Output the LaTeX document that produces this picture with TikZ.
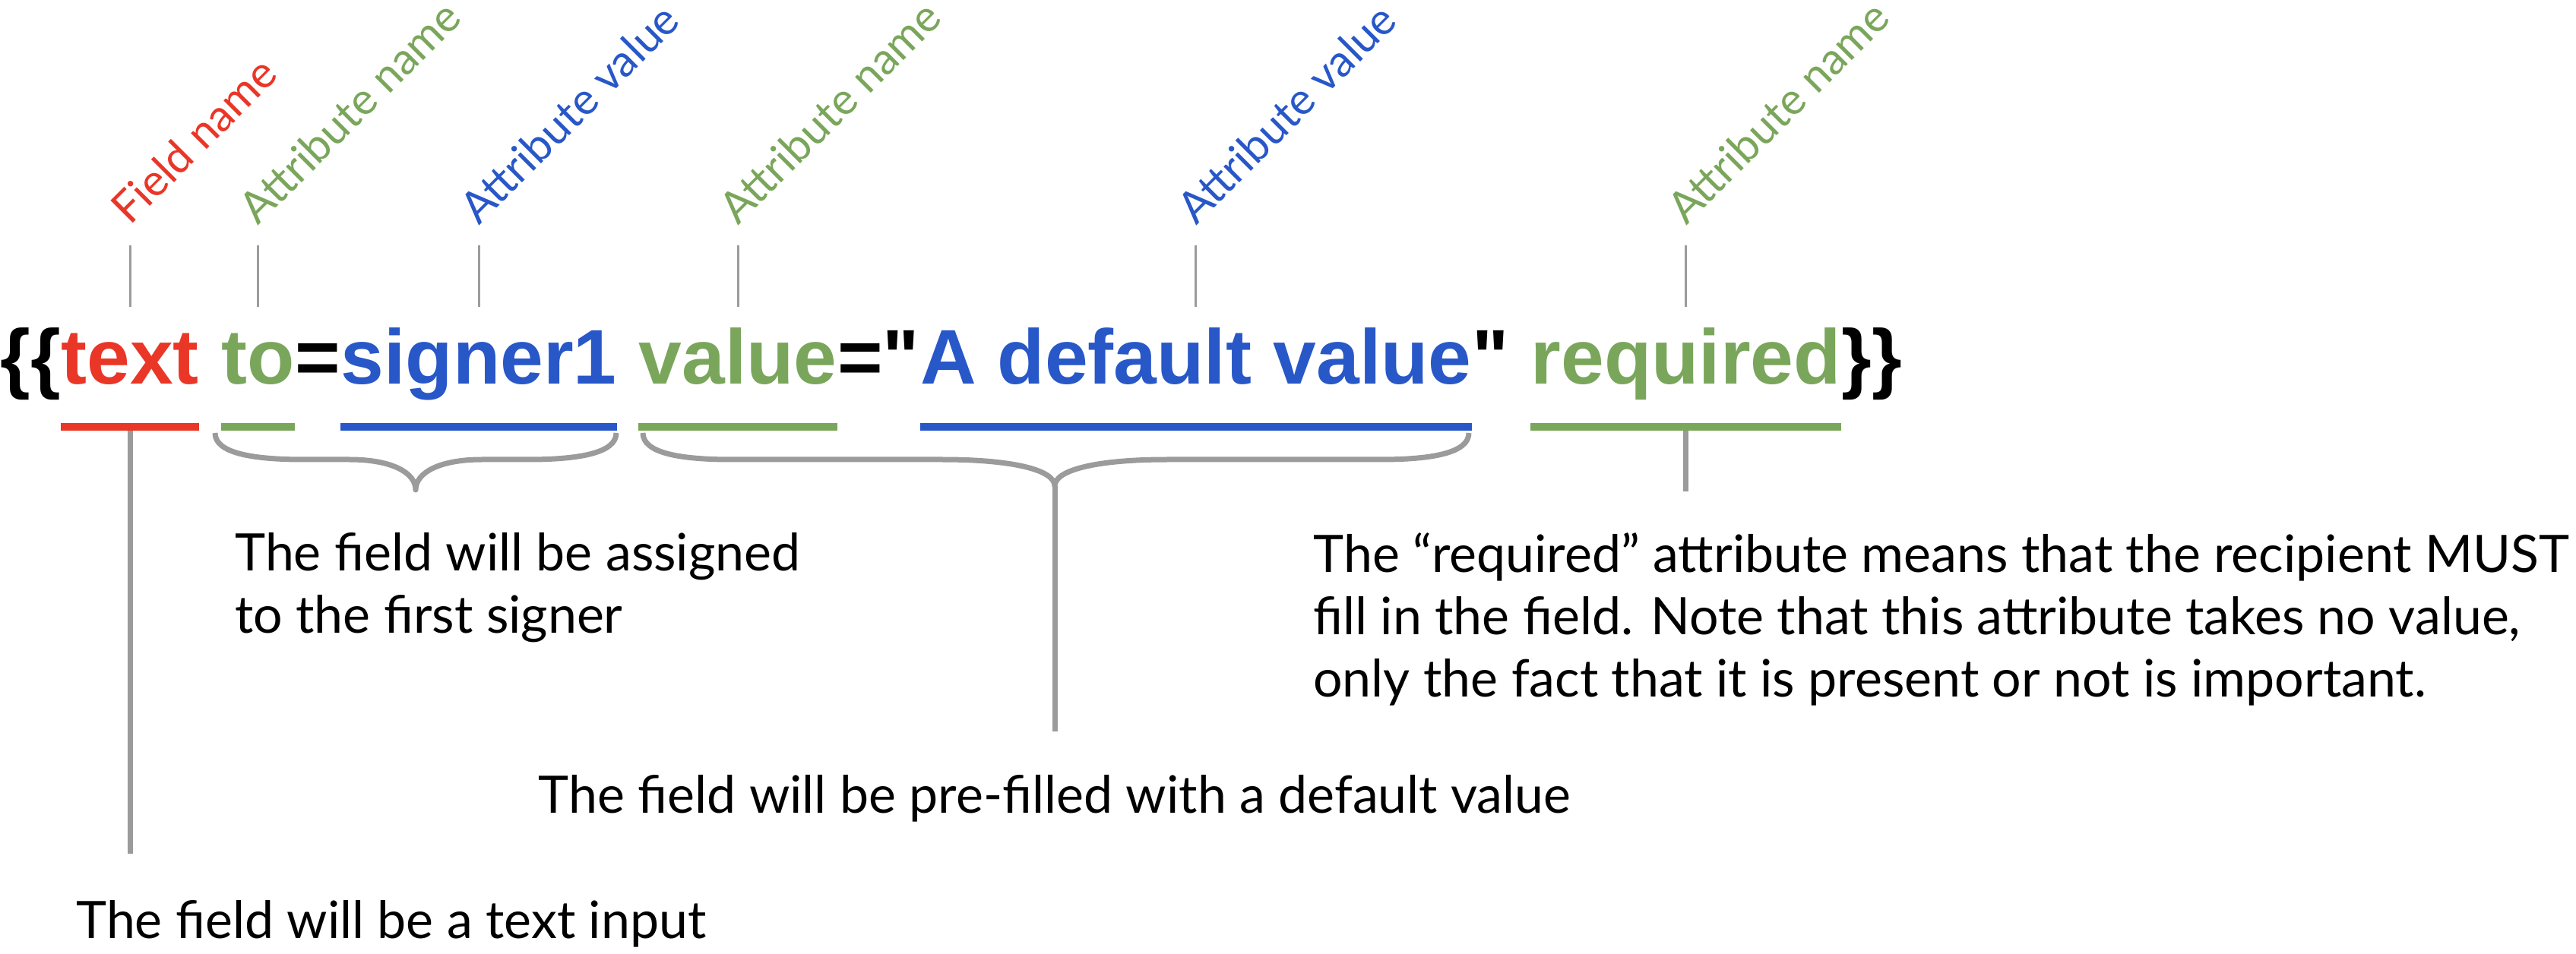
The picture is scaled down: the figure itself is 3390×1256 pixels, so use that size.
\documentclass[tikz,border=0pt]{standalone}
\usepackage{fontspec}
\usepackage{xcolor}
\usepackage{tikz}
\usetikzlibrary{positioning}
\newfontfamily\codefont{Liberation Sans}
\newfontfamily\notefont{Lato}
\definecolor{fieldred}{RGB}{233,54,39}
\definecolor{attrgreen}{RGB}{122,166,91}
\definecolor{valblue}{RGB}{40,87,200}
\definecolor{linegray}{RGB}{155,155,155}

\begin{document}
\begin{tikzpicture}[x=0.5pt, y=-0.5pt,
	code/.style={inner sep=0pt, font=\codefont\bfseries\fontsize{51}{51}\selectfont},
	lbl/.style={inner sep=0pt, anchor=base west, rotate=45, font=\notefont\fontsize{29}{29}\selectfont},
	note/.style={inner sep=0pt, anchor=base west, align=left, font=\notefont\fontsize{34}{41}\selectfont},
	tick/.style={linegray, line width=1.5pt, shorten <=12.5pt, shorten >=14pt},
	lead/.style={linegray, line width=3.5pt},
	uline/.style={line width=4.75pt},
	brace/.style={linegray, line width=3.5pt, line join=round}]
	\useasboundingbox (0,0) rectangle (3390,1256);
	\node[code, anchor=base west] (tkOpen) at (0,506) {\{\{};
	\node[code, fieldred, base right=0pt of tkOpen] (tkField) {text};
	\node[code, attrgreen, base right=14.2pt of tkField] (tkTo) {to};
	\node[code, base right=0pt of tkTo] (tkEqA) {=};
	\node[code, valblue, base right=0pt of tkEqA] (tkSigner) {signer1};
	\node[code, attrgreen, base right=14.2pt of tkSigner] (tkValue) {value};
	\node[code, base right=0pt of tkValue] (tkEqB) {="};
	\node[code, valblue, base right=0pt of tkEqB] (tkDefault) {A default value};
	\node[code, base right=0pt of tkDefault] (tkQuote) {"};
	\node[code, attrgreen, base right=14.2pt of tkQuote] (tkReq) {required};
	\node[code, base right=0pt of tkReq] (tkClose) {\}\}};
	\coordinate (lblrow) at (0,298);
	\coordinate (bar) at (0,562);
	\node[lbl, fieldred] (lbField) at (tkField.center |- lblrow) {Field name};
	\node[lbl, attrgreen] (lbTo) at (tkTo.center |- lblrow) {Attribute name};
	\node[lbl, valblue] (lbSigner) at (tkSigner.center |- lblrow) {Attribute value};
	\node[lbl, attrgreen] (lbValue) at (tkValue.center |- lblrow) {Attribute name};
	\node[lbl, valblue] (lbDefault) at (tkDefault.center |- lblrow) {Attribute value};
	\node[lbl, attrgreen] (lbReq) at (tkReq.center |- lblrow) {Attribute name};
	\draw[tick] (lbField.base west) -- (tkField.center |- tkSigner.north);
	\draw[tick] (lbTo.base west) -- (tkTo.center |- tkSigner.north);
	\draw[tick] (lbSigner.base west) -- (tkSigner.north);
	\draw[tick] (lbValue.base west) -- (tkValue.north);
	\draw[tick] (lbDefault.base west) -- (tkDefault.north);
	\draw[tick] (lbReq.base west) -- (tkReq.north);
	\node[note] (noteSigner) at (309,833) {The field will be assigned\\to the first signer};
	\node[note, anchor=base] (notePrefill) at (1388,1070) {The field will be pre-filled with a default value};
	\node[note] (noteInput) at (100,1235) {The field will be a text input};
	\node[note] (noteReq) at (1728,917) {The “required” attribute means that the recipient MUST\\fill in the field. Note that this attribute takes no value,\\only the fact that it is present or not is important.};
	\coordinate (inputFoot) at (tkField.center |- 0,1124);
	\coordinate (braceTip) at (1388,640);
	\coordinate (prefillFoot) at (1388,963);
	\coordinate (reqFoot) at (tkReq.center |- 0,647);
	\draw[lead] (tkField.center |- bar) -- (inputFoot);
	\draw[lead] (braceTip) -- (prefillFoot);
	\draw[lead] (tkReq.center |- bar) -- (reqFoot);
	\draw[brace] (283,570) .. controls (283,596) and (330,605) .. (400,605) -- (460,605) .. controls (515,605) and (547,622) .. (547,645) .. controls (547,622) and (579,605) .. (634,605) -- (694,605) .. controls (764,605) and (811,596) .. (811,570);
	\draw[brace] (846,570) .. controls (846,596) and (893,605) .. (963,605) -- (1240,605) .. controls (1330,605) and (1388,618) .. (braceTip) .. controls (1388,618) and (1446,605) .. (1536,605) -- (1816,605) .. controls (1886,605) and (1933,596) .. (1933,570);
	\draw[uline, fieldred] (tkField.west |- bar) -- (tkField.east |- bar);
	\draw[uline, attrgreen] (tkTo.west |- bar) -- (tkTo.east |- bar);
	\draw[uline, valblue] (tkSigner.west |- bar) -- (tkSigner.east |- bar);
	\draw[uline, attrgreen] (tkValue.west |- bar) -- (tkValue.east |- bar);
	\draw[uline, valblue] (tkDefault.west |- bar) -- (tkDefault.east |- bar);
	\draw[uline, attrgreen] (tkReq.west |- bar) -- (tkReq.east |- bar);
\end{tikzpicture}
\end{document}
